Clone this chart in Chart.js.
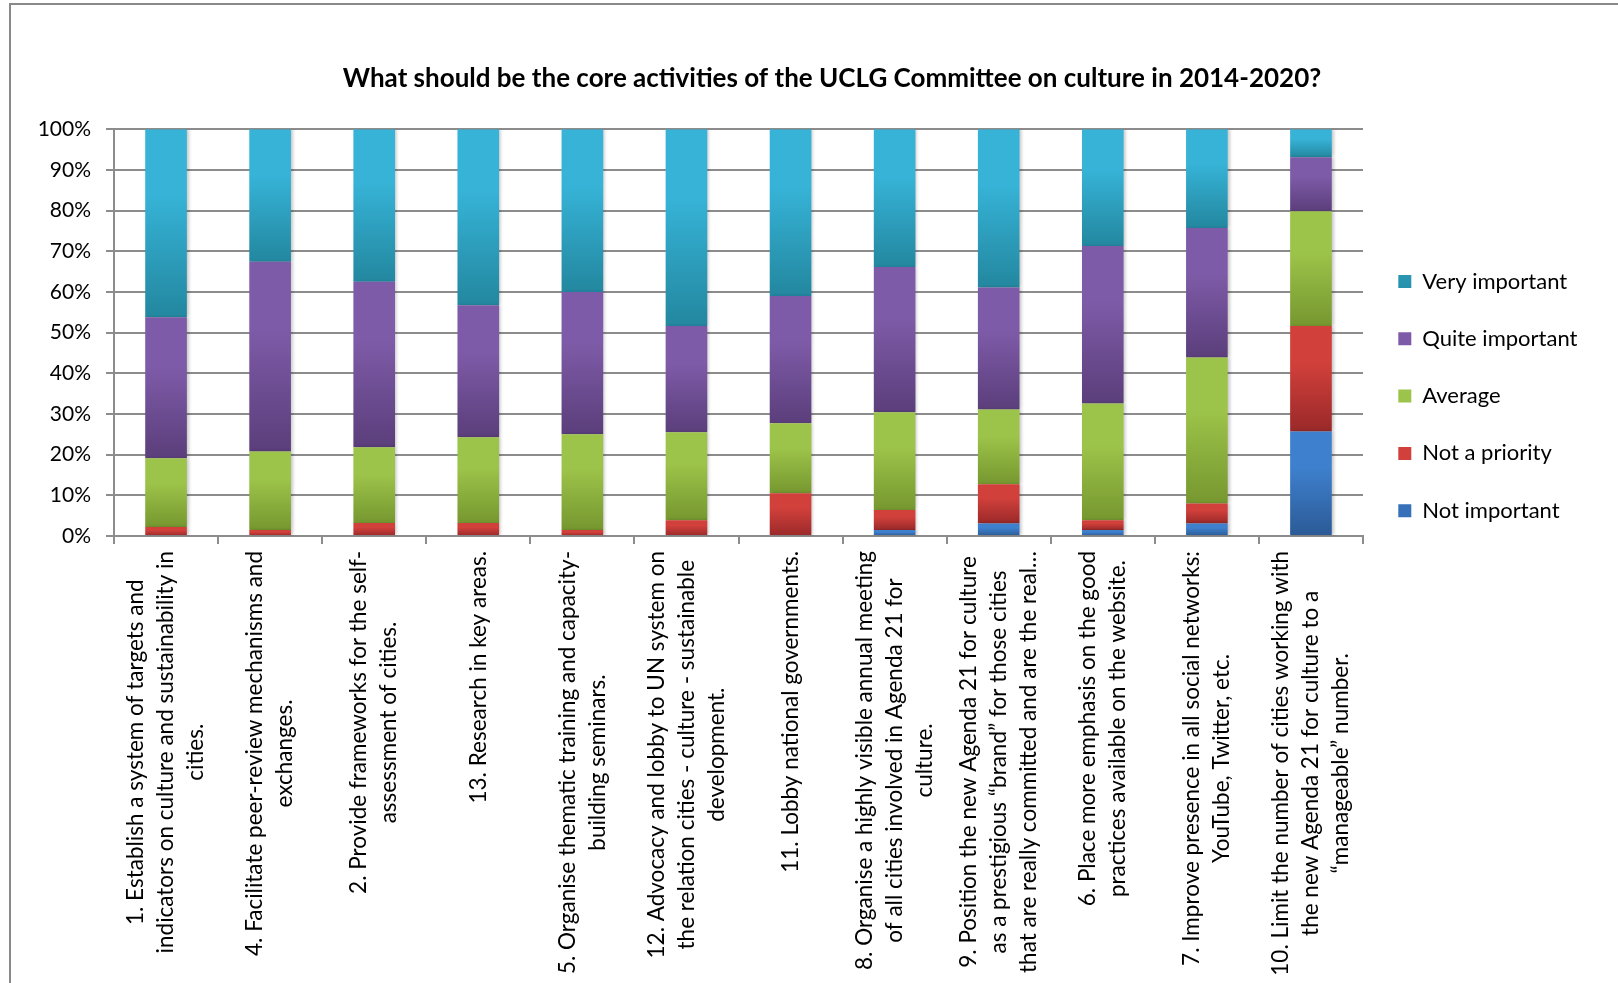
<!DOCTYPE html>
<html>
<head>
<meta charset="utf-8">
<script src="https://cdn.jsdelivr.net/npm/chart.js@4.4.1/dist/chart.umd.min.js"></script>
<style>
  html, body { margin: 0; padding: 0; background: #fff; overflow: hidden; }
  #frame { position: absolute; left: 9px; top: 3px; width: 1700px; height: 1100px; border: 2px solid #898989; }
  #wrap { position: absolute; left: 0; top: 0; width: 1664px; height: 983px; }
</style>
</head>
<body>
<div id="frame"></div>
<div id="wrap"><canvas id="chart"></canvas></div>
<script>
// category labels, already split the way the original wraps them
const categories = [
    ["1. Establish a system of targets and", "indicators on culture and sustainability in", "cities."],
    ["4. Facilitate peer-review mechanisms and", "exchanges."],
    ["2. Provide frameworks for the self-", "assessment of cities."],
    ["13. Research in key areas."],
    ["5. Organise thematic training and capacity-", "building seminars."],
    ["12. Advocacy and lobby to UN system on", "the relation cities - culture - sustainable", "development."],
    ["11. Lobby national governments."],
    ["8. Organise a highly visible annual meeting", "of all cities involved in Agenda 21 for", "culture."],
    ["9. Position the new Agenda 21 for culture", "as a prestigious \u201Cbrand\u201D for those cities", "that are really committed and are the real\u2026"],
    ["6. Place more emphasis on the good", "practices available on the website."],
    ["7. Improve presence in all social networks:", "YouTube, Twitter, etc."],
    ["10. Limit the number of cities working with", "the new Agenda 21 for culture to a", "\u201Cmanageable\u201D number."]
];

// shares in %
const notImportant   = [0, 0, 0, 0, 0, 0, 0, 1.5, 3.1, 1.5, 3.1, 25.7];
const notAPriority   = [2.2, 1.5, 3.2, 3.2, 1.5, 3.9, 10.5, 4.9, 9.6, 2.4, 4.9, 25.9];
const average        = [16.9, 19.3, 18.6, 21.1, 23.5, 21.6, 17.2, 24.0, 18.4, 28.7, 35.9, 28.2];
const quiteImportant = [34.7, 46.6, 40.7, 32.4, 35.0, 26.1, 31.3, 35.7, 30.0, 38.7, 31.8, 13.3];
const veryImportant  = [46.2, 32.6, 37.5, 43.3, 40.0, 48.4, 41.0, 33.9, 38.9, 28.7, 24.3, 6.9];

const yTicks = [0, 10, 20, 30, 40, 50, 60, 70, 80, 90, 100];

const FONT = 'Lato';
const GRID = '#8c8c8c';

// each segment gets its own top-to-bottom gradient, like the Excel bars
function segmentFill(top, bottom, mid) {
    return function(c) {
        if (c.type !== 'data') return mid;
        const chart = c.chart;
        const y = chart.scales.y;
        if (!y || !chart.chartArea) return mid;
        let base = 0;
        for (let d = 0; d < c.datasetIndex; d++) base += chart.data.datasets[d].data[c.dataIndex];
        const v = chart.data.datasets[c.datasetIndex].data[c.dataIndex];
        const y0 = y.getPixelForValue(base + v);
        const y1 = y.getPixelForValue(base);
        if (!(y1 - y0 > 0.5)) return mid;
        const g = chart.ctx.createLinearGradient(0, y0, 0, y1);
        g.addColorStop(0, top);
        g.addColorStop(0.35, top);
        g.addColorStop(1, bottom);
        return g;
    };
}

const barShadow = {
    id: 'barShadow',
    beforeDatasetsDraw(chart) {
        const ctx = chart.ctx;
        ctx.save();
        ctx.shadowColor = 'rgba(0,0,0,0.22)';
        ctx.shadowBlur = 3;
        ctx.shadowOffsetX = 2;
        ctx.shadowOffsetY = 0;
    },
    afterDatasetsDraw(chart) {
        chart.ctx.restore();
    }
};

// rotated, centre-aligned multi-line category labels placed on the x scale
const xLabels = {
    id: 'xLabels',
    afterDraw(chart) {
        const ctx = chart.ctx;
        const x = chart.scales.x;
        ctx.save();
        ctx.font = '22.5px ' + FONT;
        ctx.fillStyle = '#000';
        ctx.textAlign = 'center';
        ctx.textBaseline = 'middle';
        chart.data.labels.forEach((lines, i) => {
            const cx = x.getPixelForValue(i);
            const w = Math.max(...lines.map(l => ctx.measureText(l).width));
            const cy = x.top + 15 + w / 2;
            lines.forEach((l, k) => {
                ctx.save();
                ctx.translate(cx + (k - (lines.length - 1) / 2) * 30, cy);
                ctx.rotate(-Math.PI / 2);
                ctx.fillText(l, 0, 0);
                ctx.restore();
            });
        });
        ctx.restore();
    }
};

const ctx = document.getElementById('chart').getContext('2d');

const chart = new Chart(ctx, {
    type: 'bar',
    data: {
        labels: categories,
        datasets: [
            { label: 'Not important', data: notImportant, backgroundColor: segmentFill('#3e80cd', '#2b5a96', '#3570b8') },
            { label: 'Not a priority', data: notAPriority, backgroundColor: segmentFill('#d1403b', '#9a2929', '#bb3636') },
            { label: 'Average', data: average, backgroundColor: segmentFill('#9dc44a', '#76972f', '#8cb03f') },
            { label: 'Quite important', data: quiteImportant, backgroundColor: segmentFill('#7e5ba8', '#5b3e7b', '#6e4f95') },
            { label: 'Very important', data: veryImportant, backgroundColor: segmentFill('#36b3d7', '#23879f', '#2ea0c0') }
        ]
    },
    options: {
        responsive: true,
        maintainAspectRatio: false,
        animation: false,
        datasets: {
            bar: { barPercentage: 0.4, categoryPercentage: 1.0, borderWidth: 0 }
        },
        layout: { padding: 0 },
        plugins: {
            title: {
                display: true,
                text: 'What should be the core activities of the UCLG Committee on culture in 2014-2020?',
                color: '#000',
                font: { family: FONT, size: 26, weight: 'bold' },
                padding: { top: 63, bottom: 35 }
            },
            legend: {
                position: 'right',
                align: 'start',
                reverse: true,
                title: { display: true, text: ' ', font: { size: 12 }, padding: 110.4 },
                labels: {
                    color: '#000',
                    font: { family: FONT, size: 22 },
                    boxWidth: 13,
                    boxHeight: 13,
                    padding: 35.3
                }
            },
            tooltip: { enabled: false }
        },
        scales: {
            x: {
                stacked: true,
                afterFit(s) { s.height = 447; },
                grid: { display: true, drawOnChartArea: false, drawTicks: true, tickLength: 8, color: GRID, lineWidth: 2 },
                border: { display: true, color: GRID, width: 2 },
                ticks: { display: false }
            },
            y: {
                stacked: true,
                min: 0,
                max: 100,
                afterFit(s) { s.width = 114; },
                afterBuildTicks(s) { s.ticks = yTicks.map(v => ({ value: v })); },
                grid: { color: GRID, lineWidth: 2, tickLength: 8 },
                border: { display: true, color: GRID, width: 2 },
                ticks: {
                    color: '#000',
                    padding: 15,
                    font: { family: FONT, size: 21 },
                    callback: v => v + '%'
                }
            },
            // empty box outside the legend: keeps the plot ending at x=1363
            // while the title stays centred on x=832 as in the original
            spacer: {
                type: 'linear',
                position: 'right',
                weight: 2000,
                display: true,
                grid: { display: false },
                border: { display: false },
                ticks: { display: false },
                afterFit(s) {
                    const lw = s.chart.legend ? s.chart.legend.width : 210;
                    s.width = Math.max(0, 301 - lw);
                }
            }
        }
    },
    plugins: [barShadow, xLabels]
});
</script>
</body>
</html>
